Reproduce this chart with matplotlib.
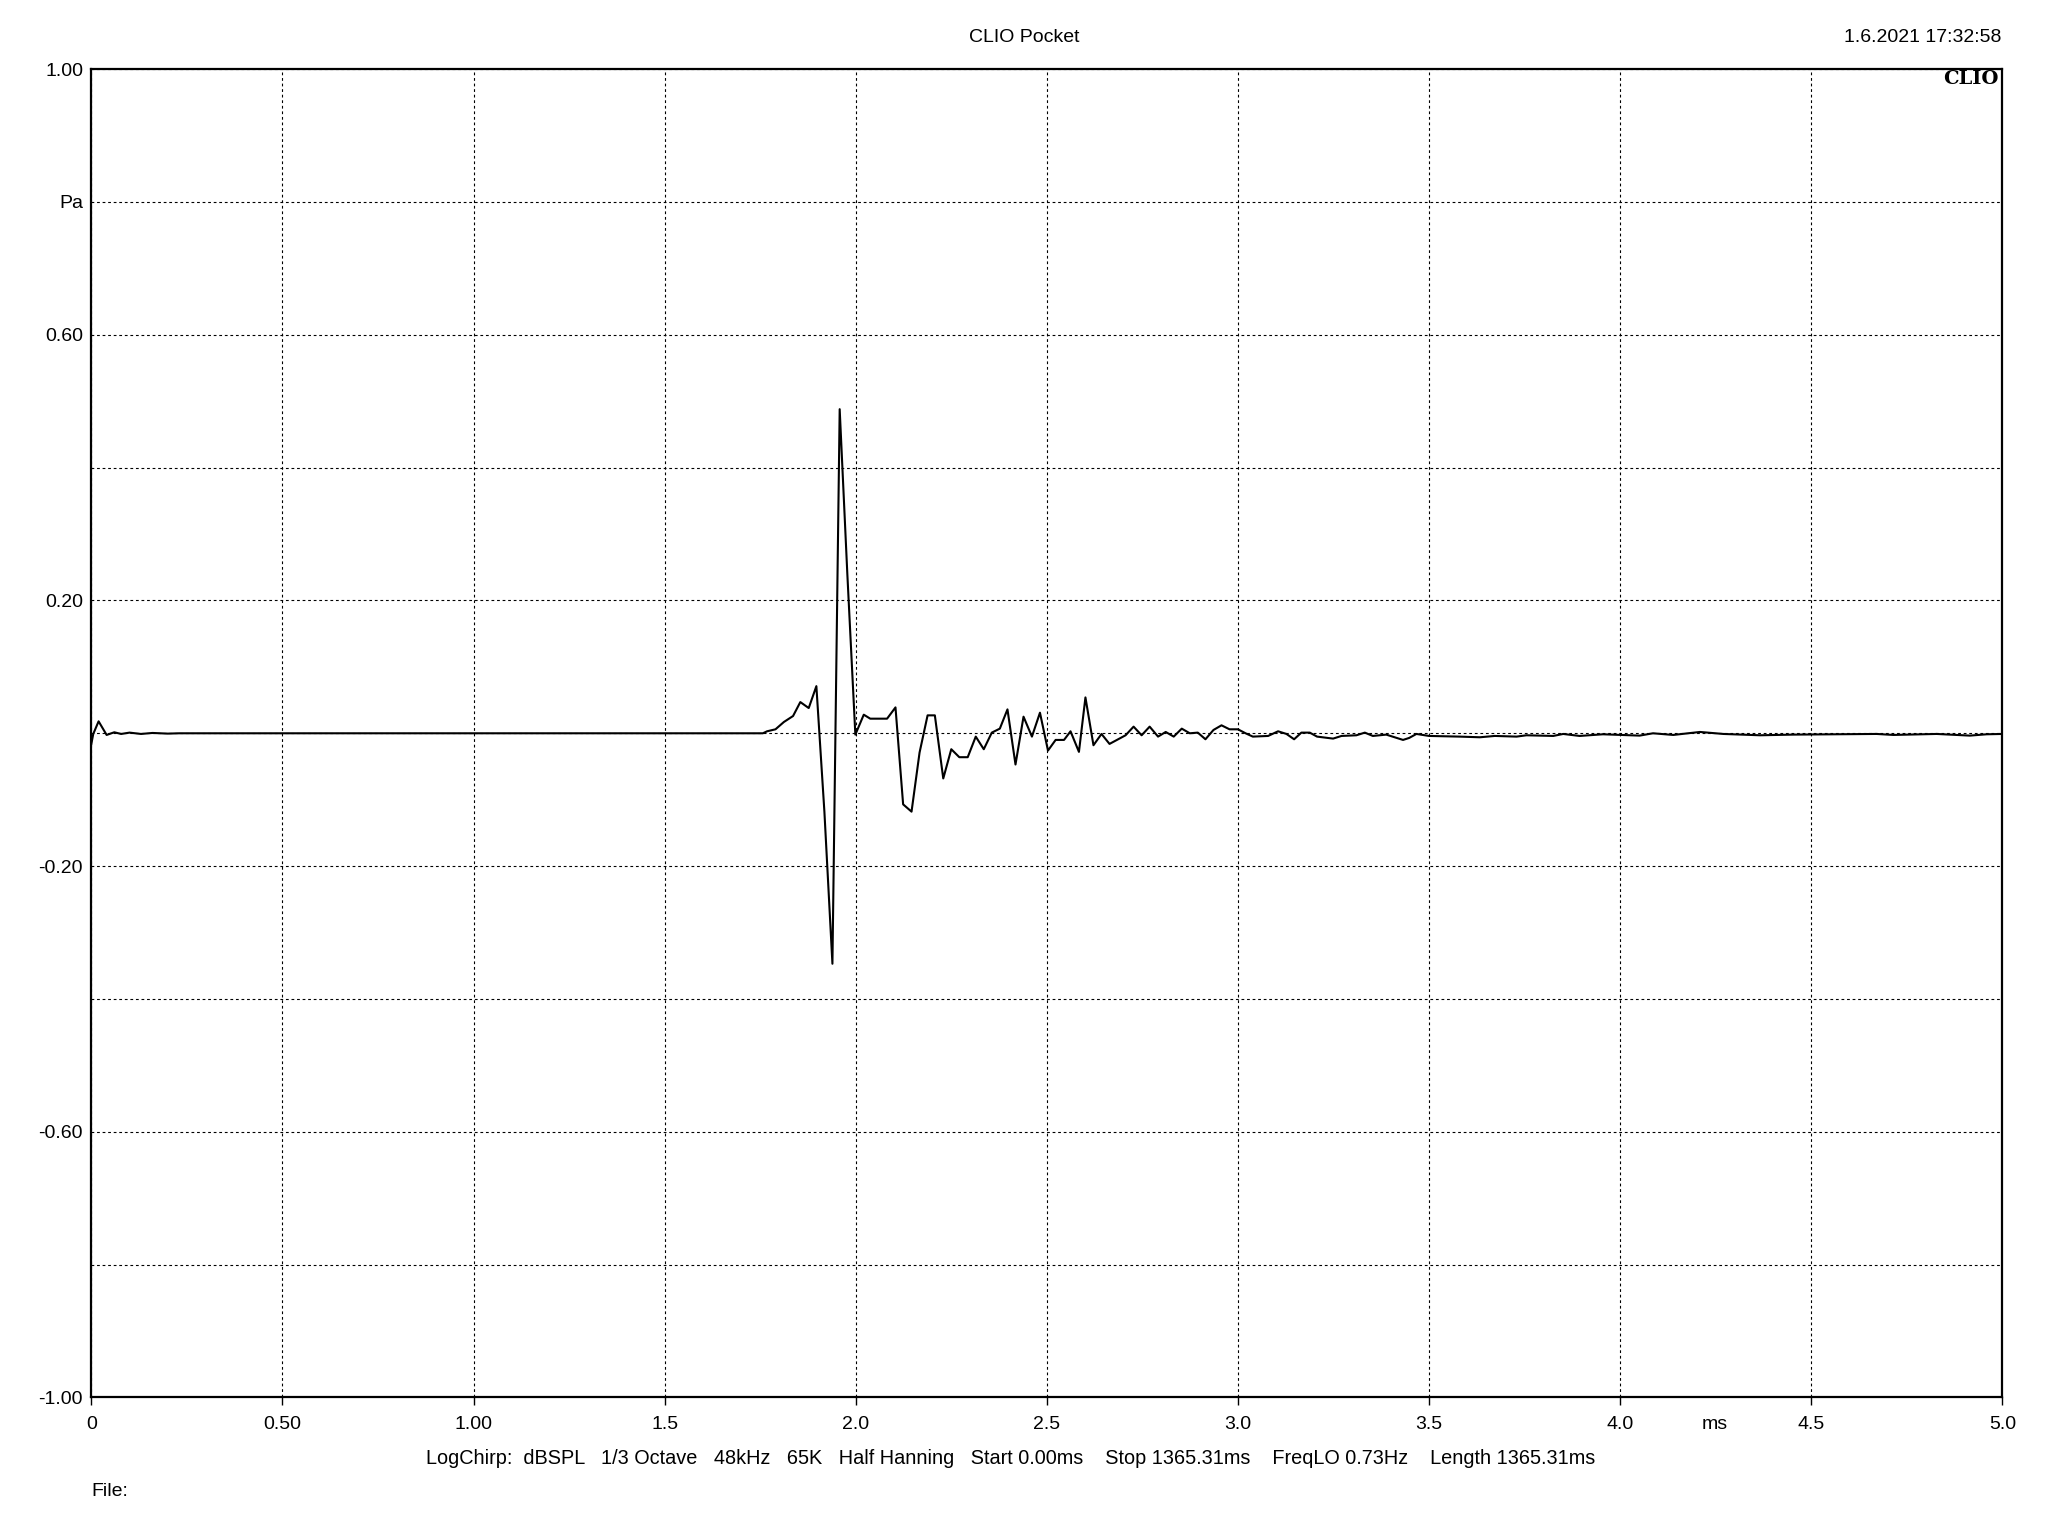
import matplotlib
matplotlib.use("Agg")
import matplotlib.pyplot as plt

plt.rcParams['font.family'] = ['Liberation Sans', 'DejaVu Sans']
plt.rcParams['font.size'] = 14

# impulse response, time in ms, pressure in Pa
t_ms = [0.000, 0.005, 0.019, 0.040, 0.060, 0.078, 0.100, 0.130, 0.160, 0.200, 0.230,
        1.672, 1.757, 1.768, 1.790, 1.812, 1.836, 1.855, 1.877, 1.897, 1.918,
        1.939, 1.958, 1.978, 1.999, 2.021, 2.038, 2.082, 2.104, 2.124, 2.146,
        2.167, 2.188, 2.207, 2.229, 2.250, 2.271, 2.293, 2.314, 2.335, 2.356,
        2.377, 2.397, 2.418, 2.439, 2.461, 2.482, 2.503, 2.523, 2.545, 2.562,
        2.584, 2.601, 2.622, 2.643, 2.664, 2.706, 2.727, 2.748, 2.769, 2.791,
        2.811, 2.832, 2.853, 2.874, 2.895, 2.915, 2.936, 2.957, 2.978, 3.000,
        3.020, 3.039, 3.079, 3.105, 3.127, 3.147, 3.166, 3.188, 3.207, 3.249,
        3.271, 3.310, 3.332, 3.353, 3.388, 3.410, 3.432, 3.448, 3.467, 3.500,
        3.580, 3.633, 3.672, 3.729, 3.755, 3.825, 3.851, 3.894, 3.955, 4.051,
        4.086, 4.139, 4.209, 4.270, 4.366, 4.453, 4.671, 4.715, 4.828, 4.915,
        4.959, 5.000]
p_pa = [-0.016, -0.001, 0.018, -0.0025, 0.0015, -0.001, 0.001, -0.001, 0.0005, -0.0005, 0.000,
        0.000, 0.000, 0.003, 0.006, 0.017, 0.026, 0.047, 0.038, 0.071, -0.118,
        -0.347, 0.488, 0.240, -0.002, 0.028, 0.022, 0.022, 0.039, -0.107, -0.118,
        -0.029, 0.027, 0.027, -0.068, -0.024, -0.036, -0.036, -0.005, -0.024, 0.001,
        0.007, 0.036, -0.047, 0.025, -0.005, 0.031, -0.026, -0.010, -0.010, 0.003,
        -0.028, 0.054, -0.018, -0.001, -0.016, -0.003, 0.010, -0.003, 0.010, -0.005,
        0.002, -0.005, 0.007, 0.000, 0.001, -0.009, 0.005, 0.012, 0.006, 0.006,
        0.000, -0.005, -0.004, 0.003, -0.001, -0.009, 0.001, 0.001, -0.005, -0.008,
        -0.004, -0.003, 0.001, -0.004, -0.002, -0.006, -0.010, -0.007, -0.001, -0.004,
        -0.005, -0.006, -0.004, -0.005, -0.003, -0.004, -0.001, -0.004, -0.0015, -0.0035,
        0.000, -0.0025, 0.002, -0.001, -0.003, -0.002, -0.001, -0.0025, -0.001, -0.0035,
        -0.0015, -0.001]

y_ticks = [-1.0, -0.8, -0.6, -0.4, -0.2, 0.0, 0.2, 0.4, 0.6, 0.8, 1.0]
y_labels = ['-1.00', '', '-0.60', '', '-0.20', '', '0.20', '', '0.60', 'Pa', '1.00']
x_ticks = [0, 0.5, 1.0, 1.5, 2.0, 2.5, 3.0, 3.5, 4.0, 4.5, 5.0]
x_labels = ['0', '0.50', '1.00', '1.5', '2.0', '2.5', '3.0', '3.5', '4.0', '4.5', '5.0']

TICK_LEN, TICK_PAD = 6, 7.5

fig = plt.figure(figsize=(20.48, 15.36), dpi=100)
ax = fig.add_axes([0.0446, 0.0902, 0.9331, 0.8648])

ax.plot(t_ms, p_pa, color='black', lw=1.5)

ax.set_xlim(0, 5)
ax.set_ylim(-1, 1)
ax.set_xticks(x_ticks)
ax.set_xticklabels(x_labels)
ax.set_yticks(y_ticks)
ax.set_yticklabels(y_labels)
ax.tick_params(axis='y', length=0, pad=6)
ax.tick_params(axis='x', length=TICK_LEN, width=1, direction='out', pad=TICK_PAD)
ax.grid(True, color='black', linestyle=(0, (2.5, 2.5)), linewidth=0.8)
for s in ax.spines.values():
    s.set_linewidth(1.6)

# unit label sits in the tick label row
ax.annotate('ms', xy=(4.248, 0), xycoords=('data', 'axes fraction'),
            xytext=(0, -(TICK_LEN + TICK_PAD)), textcoords='offset points',
            ha='center', va='top', fontsize=14)
ax.text(0.998, 0.999, 'CLIO', transform=ax.transAxes, ha='right', va='top',
        fontfamily='DejaVu Serif', fontweight='bold', fontsize=14)

fig.text(0.5, 1 - 37 / 1536, 'CLIO Pocket', ha='center', va='center', fontsize=14)
fig.text(2001 / 2048, 1 - 37 / 1536, '1.6.2021 17:32:58', ha='right', va='center', fontsize=14)
fig.text(1011 / 2048, 1 - 1458 / 1536,
         'LogChirp:  dBSPL   1/3 Octave   48kHz   65K   Half Hanning   Start 0.00ms'
         '    Stop 1365.31ms    FreqLO 0.73Hz    Length 1365.31ms',
         ha='center', va='center', fontsize=14.3)
fig.text(91 / 2048, 1 - 1492 / 1536, 'File:', ha='left', va='center', fontsize=14)

fig.savefig('out.png', dpi=100, facecolor='white')
